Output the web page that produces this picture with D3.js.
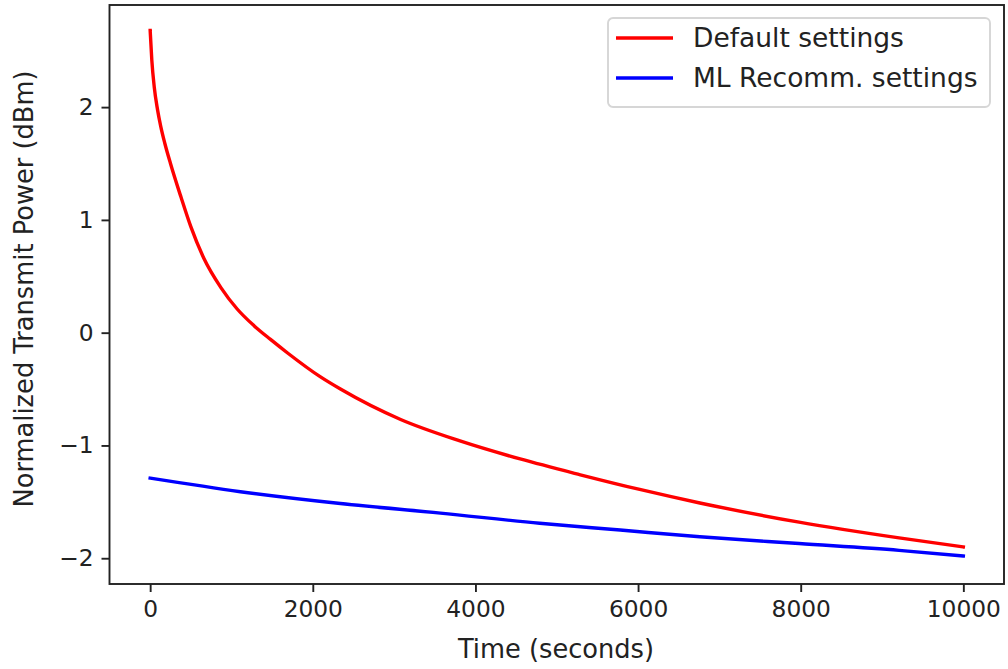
<!DOCTYPE html>
<html>
<head>
<meta charset="utf-8">
<script src="https://cdn.jsdelivr.net/npm/d3@7"></script>
<style>
  body { margin: 0; background: #fff; }
  svg { font-family: "DejaVu Sans", sans-serif; }
</style>
</head>
<body>
<div id="graph"></div>
<script>
// values
var defaultTime = [0, 20, 50, 90, 130, 180, 250, 380, 500, 660, 870, 1070, 1280, 1480, 1690, 2090, 2340, 3080, 3810, 4550, 5290, 6020, 6760, 7980, 9210, 10000];
var defaultPower = [2.68, 2.42, 2.18, 1.98, 1.83, 1.68, 1.50, 1.20, 0.94, 0.66, 0.40, 0.21, 0.06, -0.06, -0.18, -0.39, -0.50, -0.77, -0.96, -1.12, -1.26, -1.39, -1.51, -1.68, -1.82, -1.90];

var mlTime = [0, 1110, 2340, 3570, 4790, 5780, 6760, 7980, 9210, 10000];
var mlPower = [-1.29, -1.41, -1.515, -1.60, -1.69, -1.75, -1.81, -1.87, -1.93, -1.98];

var xTicks = [0, 2000, 4000, 6000, 8000, 10000];
var yTicks = [-2, -1, 0, 1, 2];

var seriesNames = ["Default settings", "ML Recomm. settings"];
var seriesColors = ["#ff0000", "#0000ff"];

var width = 1008, height = 669;
var margin = {top: 5, right: 4, bottom: 85, left: 109.5};
var tickSize = 23.3, labelSize = 25.7, legendSize = 26.5;

var svg = d3.select("#graph").append("svg")
    .attr("width", width)
    .attr("height", height);

var w = width - margin.left - margin.right,
    h = height - margin.top - margin.bottom;

var g = svg.append("g")
    .attr("transform", "translate(" + margin.left + "," + margin.top + ")");

var x = d3.scaleLinear().domain([-500, 10500]).range([0, w]);
var y = d3.scaleLinear().domain([-2.2285, 2.9055]).range([h, 0]);

var series = [
  defaultTime.map(function(t, i) { return {t: t, v: defaultPower[i]}; }),
  mlTime.map(function(t, i) { return {t: t, v: mlPower[i]}; })
];

var line = d3.line()
    .x(function(d) { return x(d.t); })
    .y(function(d) { return y(d.v); })
    .curve(d3.curveMonotoneX);

series.forEach(function(s, i) {
  g.append("path")
    .datum(s)
    .attr("fill", "none")
    .attr("stroke", seriesColors[i])
    .attr("stroke-width", 3.4)
    .attr("stroke-linecap", "square")
    .attr("d", line);
});

var fmtY = function(d) { return d < 0 ? "\u2212" + Math.abs(d) : String(d); };

var xAxis = g.append("g")
    .attr("transform", "translate(0," + h + ")")
    .call(d3.axisBottom(x).tickValues(xTicks).tickSize(8).tickPadding(8).tickFormat(d3.format("d")));

var yAxis = g.append("g")
    .call(d3.axisLeft(y).tickValues(yTicks).tickSize(8).tickPadding(8).tickFormat(fmtY));

[xAxis, yAxis].forEach(function(a) {
  a.select(".domain").remove();
  a.selectAll("line").attr("stroke", "#222").attr("stroke-width", 1.9);
  a.selectAll("text")
    .attr("fill", "#222")
    .style("font-size", tickSize + "px")
    .style("font-family", "DejaVu Sans");
});

// frame
g.append("rect")
    .attr("width", w)
    .attr("height", h)
    .attr("fill", "none")
    .attr("stroke", "#222")
    .attr("stroke-width", 1.9);

// axis labels
svg.append("text")
    .attr("x", 556)
    .attr("y", 658)
    .attr("text-anchor", "middle")
    .attr("fill", "#222")
    .style("font-size", labelSize + "px")
    .text("Time (seconds)");

svg.append("text")
    .attr("transform", "translate(33,289) rotate(-90)")
    .attr("text-anchor", "middle")
    .attr("fill", "#222")
    .style("font-size", labelSize + "px")
    .text("Normalized Transmit Power (dBm)");

// legend
var legend = svg.append("g").attr("transform", "translate(608,18)");

legend.append("rect")
    .attr("width", 382)
    .attr("height", 89)
    .attr("rx", 5)
    .attr("fill", "#fff")
    .attr("fill-opacity", 0.8)
    .attr("stroke", "#d6d6d6")
    .attr("stroke-width", 1.9);

seriesNames.forEach(function(name, i) {
  var ly = 20 + i * 40;
  legend.append("line")
    .attr("x1", 8).attr("x2", 65)
    .attr("y1", ly).attr("y2", ly)
    .attr("stroke", seriesColors[i])
    .attr("stroke-width", 3.4);
  legend.append("text")
    .attr("x", 85)
    .attr("y", ly)
    .attr("dy", "0.35em")
    .attr("fill", "#222")
    .style("font-size", legendSize + "px")
    .text(name);
});
</script>
</body>
</html>
